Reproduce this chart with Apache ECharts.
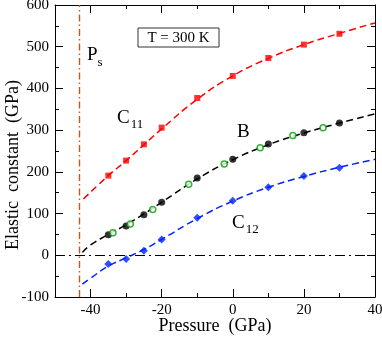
<!DOCTYPE html>
<html><head><meta charset="utf-8">
<script src="https://cdn.jsdelivr.net/npm/echarts@6/dist/echarts.min.js"></script>
<style>html,body{margin:0;padding:0;background:#fff}#c{width:382px;height:338px}</style>
</head><body><div id="c"></div>
<script>
// Data
const c11Pts = [[-35,191],[-30,227],[-25,266],[-20,306],[-10,377],[0,430],[10,473],[20,505],[30,531]];
const c11Fit = [[-42,135],[-35,191],[-30,227],[-25,265],[-20,303],[-10,374],[0,430],[10,472],[20,505],[30,532],[40,557]];
const bPts = [[-35,49],[-30,70],[-25,97],[-20,127],[-10,185],[0,230],[10,267],[20,294],[30,317]];
const bOpen = [[-33.7,54],[-28.8,75],[-22.5,110],[-12.4,170],[-2.4,219],[7.7,258],[16.9,287],[25.4,306]];
const bFit = [[-42.3,7],[-40,25],[-35,50],[-30,73],[-25,99],[-20,127],[-10,183],[0,229],[10,265],[20,293],[30,317],[40,339]];
const c12Pts = [[-35,-21],[-30,-9],[-25,11],[-20,38],[-10,90],[0,131],[10,163],[20,190],[30,210]];
const c12Fit = [[-42.3,-69],[-40,-55],[-35,-26],[-30,-6],[-25,14],[-20,38],[-10,88],[0,130],[10,163],[20,189],[30,211],[40,230]];
const psPressure = -43.3;
const xMajor = [-40,-20,0,20,40];
const xMinor = [-50,-30,-10,10,30];
const xRange = [-50, 40];
const yRange = [-100, 600];

const FONT = '"Liberation Serif", "DejaVu Serif", serif';
const chart = echarts.init(document.getElementById('c'), null, {renderer:'canvas'});
const axCommon = {min: xRange[0], max: xRange[1], type:'value', splitLine:{show:false}};
const lineStyleAxis = {color:'#000', width:1};
const option = {
  animation:false,
  grid:{left:55, right:7, top:5, bottom:41, containLabel:false, outerBoundsMode:'none'},
  xAxis:[
    Object.assign({}, axCommon, {position:'bottom', axisLine:{show:true, onZero:false, lineStyle:lineStyleAxis},
      axisTick:{inside:true, length:8, customValues:xMajor, lineStyle:lineStyleAxis},
      axisLabel:{customValues:xMajor, color:'#000', fontFamily:FONT, fontSize:15, margin:6}}),
    Object.assign({}, axCommon, {position:'bottom', axisLine:{show:false, onZero:false},
      axisTick:{inside:true, length:4, customValues:xMinor, lineStyle:lineStyleAxis}, axisLabel:{show:false}}),
    Object.assign({}, axCommon, {position:'top', axisLine:{show:true, onZero:false, lineStyle:lineStyleAxis},
      axisTick:{inside:true, length:8, customValues:xMajor, lineStyle:lineStyleAxis}, axisLabel:{show:false}}),
    Object.assign({}, axCommon, {position:'top', axisLine:{show:false, onZero:false},
      axisTick:{inside:true, length:4, customValues:xMinor, lineStyle:lineStyleAxis}, axisLabel:{show:false}})
  ],
  yAxis:[
    {type:'value', min:yRange[0], max:yRange[1], interval:100, position:'left', splitLine:{show:false},
      axisLine:{show:true, onZero:false, lineStyle:lineStyleAxis},
      axisTick:{inside:true, length:8, lineStyle:lineStyleAxis},
      minorTick:{show:true, splitNumber:2, length:4, lineStyle:lineStyleAxis},
      axisLabel:{color:'#000', fontFamily:FONT, fontSize:15, margin:6}},
    {type:'value', min:yRange[0], max:yRange[1], interval:100, position:'right', splitLine:{show:false},
      axisLine:{show:true, onZero:false, lineStyle:lineStyleAxis},
      axisTick:{inside:true, length:8, lineStyle:lineStyleAxis},
      minorTick:{show:true, splitNumber:2, length:4, lineStyle:lineStyleAxis},
      axisLabel:{show:false}}
  ],
  series:[
    {type:'line', data:c11Fit, smooth:true, symbol:'none', lineStyle:{color:'#ff0000', width:1.5, type:[7,4]}, z:2,
      markLine:{silent:true, symbol:'none', label:{show:false},
        data:[
          {xAxis:psPressure, lineStyle:{color:'#c45a20', width:1.4, type:[7,3,1.5,3]}},
          [{coord:[xRange[0],0]},{coord:[xRange[1],0], lineStyle:{color:'#000', width:1.2, type:[10,4,2,4]}}]
        ]}},
    {type:'line', data:bFit, smooth:true, symbol:'none', lineStyle:{color:'#000', width:1.5, type:[7,4]}, z:2},
    {type:'line', data:c12Fit, smooth:true, symbol:'none', lineStyle:{color:'#0022ff', width:1.5, type:[7,4]}, z:2},
    {type:'scatter', data:c11Pts, symbol:'rect', symbolSize:6, itemStyle:{color:'#ff0000'}, z:3},
    {type:'scatter', data:bPts, symbol:'circle', symbolSize:7, itemStyle:{color:'#000'}, z:3},
    {type:'scatter', data:bOpen, symbol:'circle', symbolSize:6, itemStyle:{color:'#fff', borderColor:'#00a000', borderWidth:1.5}, z:4},
    {type:'scatter', data:c12Pts, symbol:'diamond', symbolSize:8, itemStyle:{color:'#0022ff'}, z:3}
  ],
  graphic:[
    {type:'text', x:13, y:165, rotation:Math.PI/2, style:{text:'Elastic  constant  (GPa)', fill:'#000', font:'18px '+FONT, align:'center', verticalAlign:'middle'}, z:11},
    {type:'text', x:215, y:326, style:{text:'Pressure  (GPa)', fill:'#000', font:'18px '+FONT, align:'center', verticalAlign:'middle'}, z:11},
    {type:'rect', shape:{x:138, y:28, width:81, height:19}, style:{fill:'#fff', stroke:'#333', lineWidth:1}, z:10},
    {type:'text', x:178.5, y:38, style:{text:'T = 300 K', fill:'#000', font:'15px '+FONT, align:'center', verticalAlign:'middle'}, z:11},
    {type:'text', x:87, y:42, style:{text:'{m|P}{s|s}', rich:{m:{fontFamily:FONT, fontSize:19, color:'#000'}, s:{fontFamily:FONT, fontSize:13, color:'#000', padding:[14,0,0,0]}}}, z:11},
    {type:'text', x:117, y:106, style:{text:'{m|C}{s|11}', rich:{m:{fontFamily:FONT, fontSize:19, color:'#000'}, s:{fontFamily:FONT, fontSize:13, color:'#000', padding:[12,0,0,1]}}}, z:11},
    {type:'text', x:237, y:123, style:{text:'B', fill:'#000', font:'19px '+FONT}, z:11},
    {type:'text', x:232, y:211, style:{text:'{m|C}{s|12}', rich:{m:{fontFamily:FONT, fontSize:19, color:'#000'}, s:{fontFamily:FONT, fontSize:13, color:'#000', padding:[12,0,0,1]}}}, z:11}
  ]
};
chart.setOption(option);
</script></body></html>
